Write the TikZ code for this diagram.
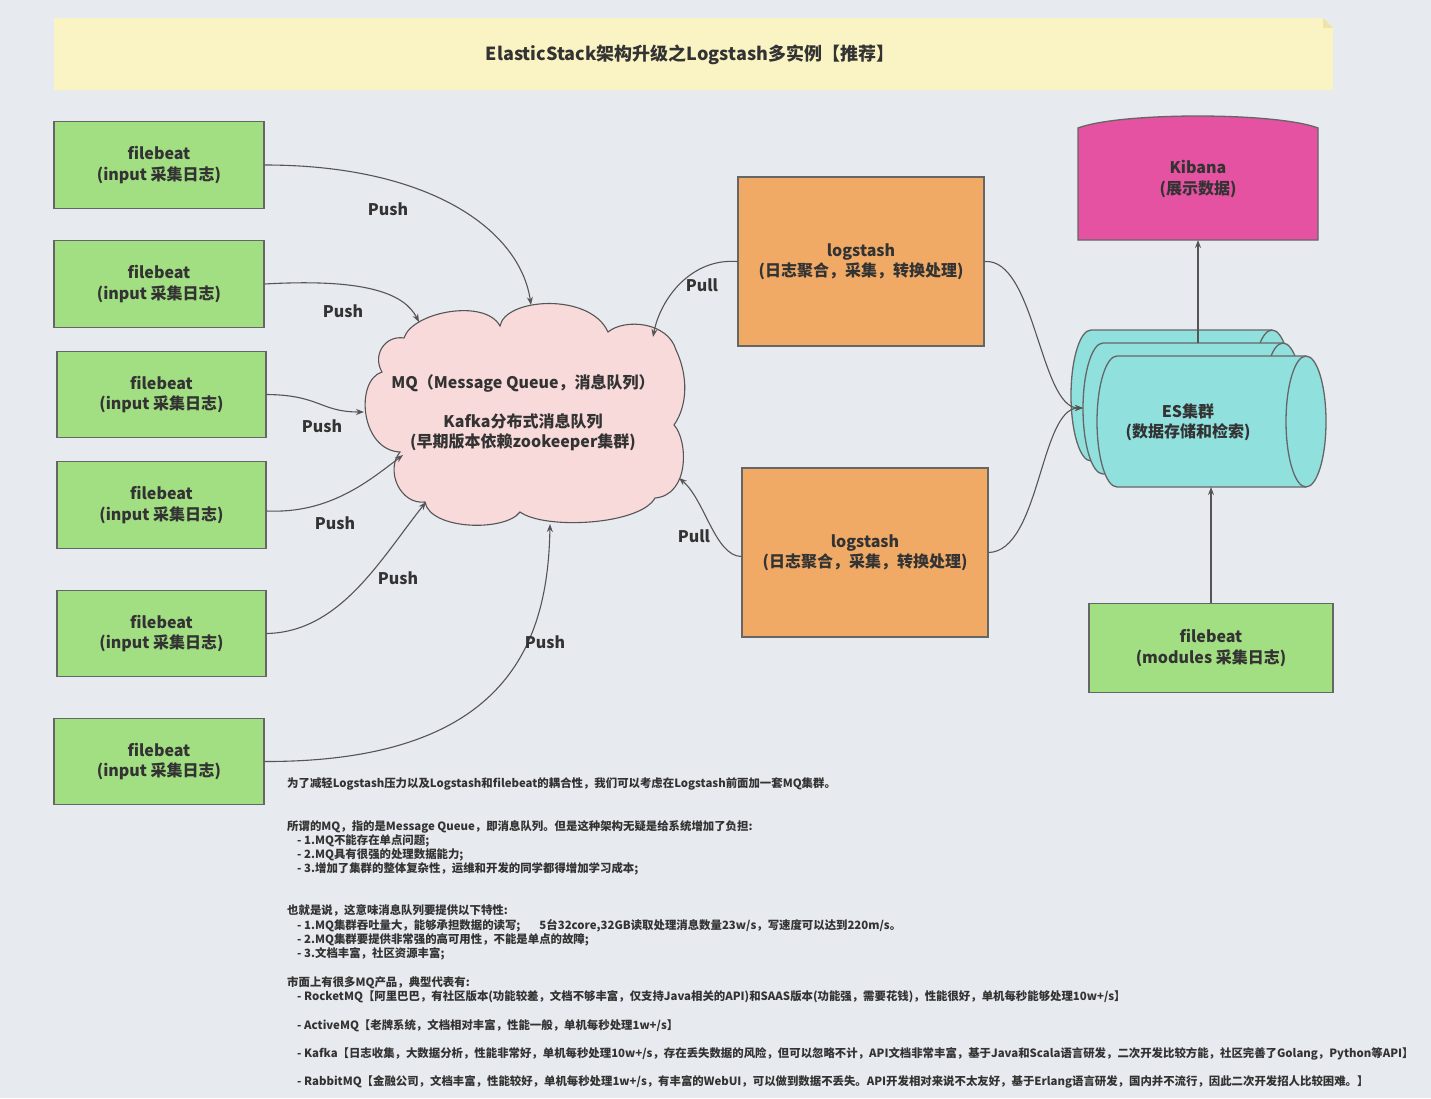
\documentclass[tikz,border=0pt]{standalone}
\usepackage{fontspec}
\setmainfont{Noto Sans CJK SC}
\usetikzlibrary{arrows.meta,calc}
\definecolor{bg}{HTML}{E7EAEE}
\definecolor{banner}{HTML}{FAF4C4}
\definecolor{bannerdark}{HTML}{EEE3A8}
\definecolor{fbgreen}{HTML}{A2DE82}
\definecolor{lsorange}{HTML}{F0AA66}
\definecolor{cloudpink}{HTML}{F9DADA}
\definecolor{kibmag}{HTML}{E552A1}
\definecolor{escyan}{HTML}{90E0DE}
\definecolor{bord}{HTML}{666666}
\definecolor{lin}{HTML}{555555}
\definecolor{txt}{HTML}{333333}
\newcommand\myEScyl[4]{%
  \path[draw=bord,fill=escyan,line width=1.3pt] (#1,#3) -- (#2,#3)
    arc[start angle=-90,end angle=90,x radius=20,y radius={(#4-#3)/2}] -- (#1,#4)
    arc[start angle=90,end angle=270,x radius=20,y radius={(#4-#3)/2}] -- cycle;
  \draw[bord,line width=1.3pt] (#2,#3)
    arc[start angle=-90,end angle=-270,x radius=20,y radius={(#4-#3)/2}];}
\begin{document}
\begin{tikzpicture}[x=1pt,y=-1pt,
  font=\bfseries\fontsize{16}{20.5}\selectfont, text=txt,
  box/.style={draw=bord, line width=1.3pt, align=center, inner sep=0pt},
  fb/.style={box, fill=fbgreen, minimum width=210pt, minimum height=87pt},
  ls/.style={box, fill=lsorange, minimum width=246pt, minimum height=169pt},
  conn/.style={draw=lin, line width=1.1pt, -{Stealth[length=8pt,width=6pt]}},
  lab/.style={font=\bfseries\fontsize{16}{20}\selectfont, inner sep=0pt},
  plain/.style={align=center, inner sep=0pt}]
\fill[bg] (0,0) rectangle (1431,1098);
\useasboundingbox (0,0) rectangle (1431,1098);

% title banner
\fill[banner] (54,18) -- (1323,18) -- (1333,28) -- (1333,90) -- (54,90) -- cycle;
\fill[bannerdark] (1323,18) -- (1333,28) -- (1323,28) -- cycle;
\node[plain, font=\bfseries\fontsize{18}{22}\selectfont] (title) at (690,55) {ElasticStack架构升级之Logstash多实例【推荐】};

% filebeat boxes
\node[fb] (fb1) at (159,165) {filebeat\\(input 采集日志)};
\node[fb] (fb2) at (159,284) {filebeat\\(input 采集日志)};
\node[fb, minimum width=209pt, minimum height=86pt] (fb3) at (161.5,394.5) {filebeat\\(input 采集日志)};
\node[fb, minimum width=209pt] (fb4) at (161.5,505) {filebeat\\(input 采集日志)};
\node[fb, minimum width=209pt, minimum height=86pt] (fb5) at (161.5,633.5) {filebeat\\(input 采集日志)};
\node[fb, minimum height=86pt] (fb6) at (159,761.5) {filebeat\\(input 采集日志)};

% cloud
\path[draw=lin, fill=cloudpink, line width=1.1pt]
  (404,338) .. controls (412,312) and (485,298) .. (500,326)
  .. controls (505,298) and (590,292) .. (608,332)
  .. controls (625,318) and (668,322) .. (676,350)
  .. controls (688,375) and (688,405) .. (674,425)
  .. controls (688,440) and (690,495) .. (655,498)
  .. controls (640,525) and (545,530) .. (520,512)
  .. controls (505,532) and (430,530) .. (425,502)
  .. controls (400,505) and (385,470) .. (400,452)
  .. controls (360,450) and (355,380) .. (382,372)
  .. controls (372,355) and (385,335) .. (404,338) -- cycle;
\node[plain] (mq) at (523,413) {MQ（Message Queue，消息队列）\\[18pt]Kafka分布式消息队列\\(早期版本依赖zookeeper集群)};
\coordinate (mq1) at (531,305);
\coordinate (mq2) at (419,322);
\coordinate (mq3) at (364,412);
\coordinate (mq4) at (403,455);
\coordinate (mq5) at (426,502);
\coordinate (mq6) at (550,524);
\coordinate (mq7) at (653,337);
\coordinate (mq8) at (679,478);

% logstash
\node[ls] (ls1) at (861,261.5) {logstash\\(日志聚合，采集，转换处理)};
\node[ls] (ls2) at (865,552.5) {logstash\\(日志聚合，采集，转换处理)};

% kibana
\path[draw=bord, fill=kibmag, line width=1.3pt] (1078,128) .. controls (1120,112) and (1276,112) .. (1318,128) -- (1318,240) -- (1078,240) -- cycle;
\node[plain] (kib) at (1198,179) {Kibana\\(展示数据)};
\coordinate (kibb) at (1198,240);

% ES cylinders
\myEScyl{1091}{1272}{330}{461}
\myEScyl{1103}{1283}{343}{474}
\myEScyl{1117}{1306}{356}{487}
\node[plain] (es) at (1188,422) {ES集群\\(数据存储和检索)};
\coordinate (esin) at (1083,408);
\coordinate (estop) at (1198,343);
\coordinate (esbot) at (1211,487);

% filebeat modules
\node[fb, minimum width=244pt, minimum height=89pt] (fbm) at (1211,648) {filebeat\\(modules 采集日志)};

% connectors
\draw[conn] (fb1.east) .. controls (430,165) and (520,230) .. (mq1);
\draw[conn] (fb2.east) .. controls (370,278) and (405,295) .. (mq2);
\draw[conn] (fb3.east) .. controls (320,395) and (320,412) .. (mq3);
\draw[conn] ($(fb4.east)+(0,6)$) .. controls (330,514) and (370,480) .. (mq4);
\draw[conn] (fb5.east) .. controls (340,632) and (380,560) .. (mq5);
\draw[conn] (fb6.east) .. controls (510,762) and (548,640) .. (mq6);
\draw[conn] (ls1.west) .. controls (690,258) and (660,300) .. (mq7);
\draw[conn] ($(ls2.west)+(0,4)$) .. controls (715,556) and (705,500) .. (mq8);
\draw[conn] (ls1.east) .. controls (1035,258) and (1040,408) .. (esin);
\draw[conn] (ls2.east) .. controls (1040,551) and (1040,408) .. (esin);
\draw[conn] (estop) -- (kibb);
\draw[conn] (fbm.north) -- (esbot);

% labels
\node[lab] (p1) at (388,209) {Push};
\node[lab] (p2) at (343,311) {Push};
\node[lab] (p3) at (322,426) {Push};
\node[lab] (p4) at (335,523) {Push};
\node[lab] (p5) at (398,578) {Push};
\node[lab] (p6) at (545,642) {Push};
\node[lab] (l1) at (702,285) {Pull};
\node[lab] (l2) at (694,536) {Pull};

% notes
\node[anchor=north west, align=left, inner sep=0pt, font=\bfseries\fontsize{11.4}{14.2}\selectfont] (notes) at (287,777.5) {%
为了减轻Logstash压力以及Logstash和filebeat的耦合性，我们可以考虑在Logstash前面加一套MQ集群。\\[28.6pt]
所谓的MQ，指的是Message Queue，即消息队列。但是这种架构无疑是给系统增加了负担:\\
\hspace*{10pt}- 1.MQ不能存在单点问题;\\
\hspace*{10pt}- 2.MQ具有很强的处理数据能力;\\
\hspace*{10pt}- 3.增加了集群的整体复杂性，运维和开发的同学都得增加学习成本;\\[27.8pt]
也就是说，这意味消息队列要提供以下特性:\\
\hspace*{10pt}- 1.MQ集群吞吐量大，能够承担数据的读写;\hspace{19pt}5台32core,32GB读取处理消息数量23w/s，写速度可以达到220m/s。\\
\hspace*{10pt}- 2.MQ集群要提供非常强的高可用性，不能是单点的故障;\\
\hspace*{10pt}- 3.文档丰富，社区资源丰富;\\[14.8pt]
市面上有很多MQ产品，典型代表有:\\
\hspace*{10pt}- RocketMQ【阿里巴巴，有社区版本(功能较差，文档不够丰富，仅支持Java相关的API)和SAAS版本(功能强，需要花钱)，性能很好，单机每秒能够处理10w+/s】\\[14.8pt]
\hspace*{10pt}- ActiveMQ【老牌系统，文档相对丰富，性能一般，单机每秒处理1w+/s】\\[13.8pt]
\hspace*{10pt}- Kafka【日志收集，大数据分析，性能非常好，单机每秒处理10w+/s，存在丢失数据的风险，但可以忽略不计，API文档非常丰富，基于Java和Scala语言研发，二次开发比较方能，社区完善了Golang，Python等API】\\[13.8pt]
\hspace*{10pt}- RabbitMQ【金融公司，文档丰富，性能较好，单机每秒处理1w+/s，有丰富的WebUI，可以做到数据不丢失。API开发相对来说不太友好，基于Erlang语言研发，国内并不流行，因此二次开发招人比较困难。】};
\end{tikzpicture}
\end{document}
